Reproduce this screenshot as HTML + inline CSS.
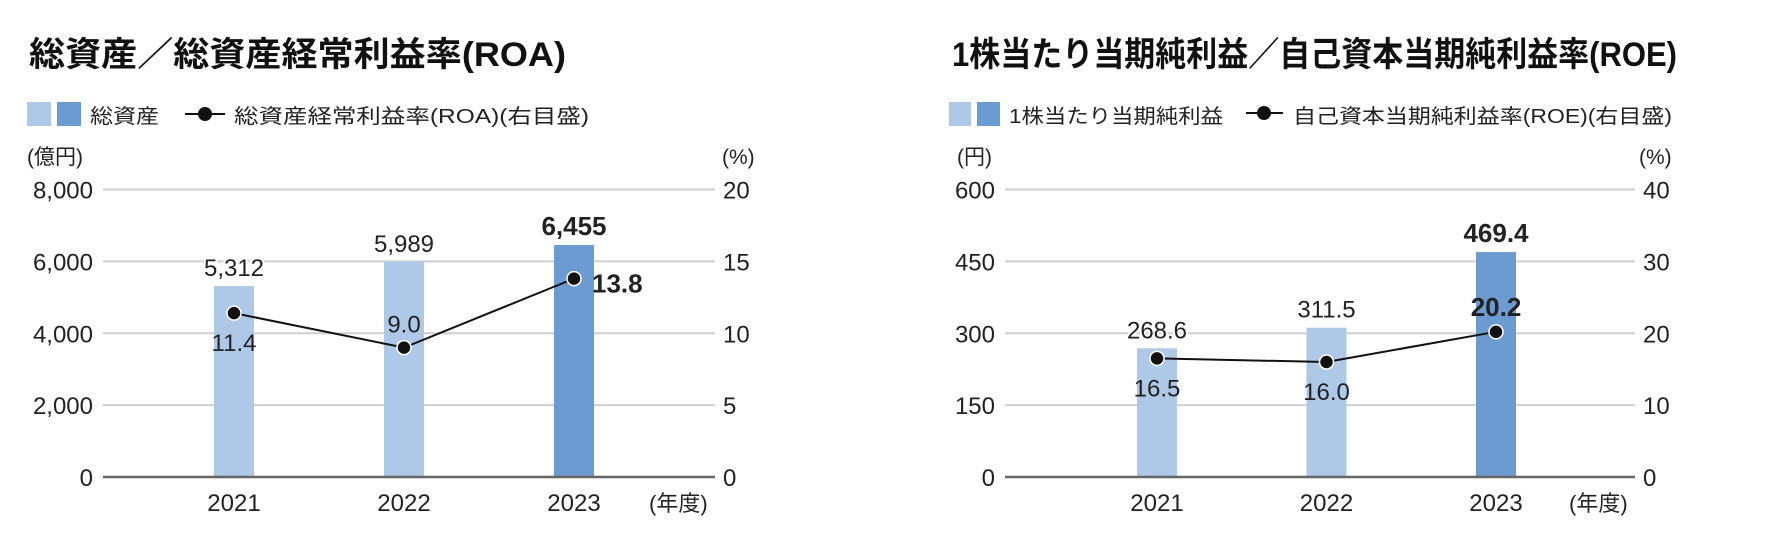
<!DOCTYPE html>
<html><head><meta charset="utf-8">
<style>
html,body{margin:0;padding:0;background:#fff;}
svg{display:block;font-family:"Liberation Sans","Noto Sans CJK JP",sans-serif;}
</style></head>
<body>
<svg id="chart" width="1773" height="541" viewBox="0 0 1773 541" xmlns="http://www.w3.org/2000/svg">
<g>
 <text x="29" y="66" font-size="34" font-weight="bold" fill="#111" textLength="537" lengthAdjust="spacingAndGlyphs">総資産／総資産経常利益率(ROA)</text>
 <rect x="27" y="102" width="24" height="24" fill="#aec8e8"/>
 <rect x="57" y="102" width="24" height="24" fill="#6b9bd1"/>
 <text x="90" y="123" font-size="20" fill="#222" textLength="69" lengthAdjust="spacingAndGlyphs">総資産</text>
 <line x1="185" y1="114" x2="225" y2="114" stroke="#111" stroke-width="2"/>
 <circle cx="205" cy="114" r="7" fill="#111"/>
 <text x="234" y="123" font-size="20" fill="#222" textLength="355" lengthAdjust="spacingAndGlyphs">総資産経常利益率(ROA)(右目盛)</text>
 <text x="27" y="164" font-size="21" fill="#222">(億円)</text>
 <text x="722" y="164" font-size="21" fill="#222">(%)</text>
 <text x="649" y="511" font-size="22" fill="#222">(年度)</text>
 <g id="g1"></g>
</g>
<g>
 <text x="952" y="66" font-size="34" font-weight="bold" fill="#111" textLength="725" lengthAdjust="spacingAndGlyphs">1株当たり当期純利益／自己資本当期純利益率(ROE)</text>
 <rect x="949" y="102" width="22" height="24" fill="#aec8e8"/>
 <rect x="977" y="102" width="23" height="24" fill="#6b9bd1"/>
 <text x="1009" y="123" font-size="20" fill="#222" textLength="214" lengthAdjust="spacingAndGlyphs">1株当たり当期純利益</text>
 <line x1="1246" y1="113" x2="1283" y2="113" stroke="#111" stroke-width="2"/>
 <circle cx="1264" cy="113" r="7" fill="#111"/>
 <text x="1293" y="123" font-size="20" fill="#222" textLength="379" lengthAdjust="spacingAndGlyphs">自己資本当期純利益率(ROE)(右目盛)</text>
 <text x="957" y="164" font-size="21" fill="#222">(円)</text>
 <text x="1639" y="164" font-size="21" fill="#222">(%)</text>
 <text x="1569" y="511" font-size="22" fill="#222">(年度)</text>
 <g id="g2"></g>
</g>
</svg>
<script>
const categories = ["2021","2022","2023"];
const assetValues = [5312, 5989, 6455];
const roaValues = [11.4, 9.0, 13.8];
const assetTicks = [0, 2000, 4000, 6000, 8000];
const roaTicks = [0, 5, 10, 15, 20];
const epsValues = [268.6, 311.5, 469.4];
const roeValues = [16.5, 16.0, 20.2];
const epsTicks = [0, 150, 300, 450, 600];
const roeTicks = [0, 10, 20, 30, 40];

const NS = "http://www.w3.org/2000/svg";
function mk(parent, tag, attrs, text){
  const e = document.createElementNS(NS, tag);
  for (const k in attrs) e.setAttribute(k, attrs[k]);
  if (text !== undefined) e.textContent = text;
  parent.appendChild(e);
  return e;
}
function fmt(v, dec){ return dec ? v.toFixed(1) : v.toLocaleString("en-US"); }

function draw(g, cfg){
  const top = 189.5, bottom = 477;
  const lmax = cfg.lTicks[cfg.lTicks.length-1], rmax = cfg.rTicks[cfg.rTicks.length-1];
  const yL = v => bottom - v / lmax * (bottom - top);
  const yR = v => bottom - v / rmax * (bottom - top);
  const xC = i => cfg.x0 + i * cfg.step;
  cfg.lTicks.forEach((t, i) => {
    const y = yL(t);
    if (i > 0) {
      const gl = mk(g, "line", {x1: cfg.gx1, x2: cfg.gx2, y1: y, y2: y, stroke: "#cfcfcf", "stroke-width": 2});
      
      
    }
    const lt = mk(g, "text", {x: cfg.gx1 - 10, y: y + 9, "font-size": 24, fill: "#222", "text-anchor": "end"}, fmt(t, false));
    
    
  });
  cfg.rTicks.forEach(t => {
    const rt = mk(g, "text", {x: cfg.gx2 + 8, y: yR(t) + 9, "font-size": 24, fill: "#222"}, String(t));
    
    
  });
  cfg.bars.forEach((v, i) => {
    const last = i === cfg.bars.length - 1;
    const b = mk(g, "rect", {x: xC(i) - 20, y: yL(v), width: 40, height: bottom - yL(v), fill: last ? "#6b9bd1" : "#aec8e8"});
    
    
    const lbl = mk(g, "text", {x: xC(i), y: yL(v) - 10, "font-size": last ? 26 : 24, "font-weight": last ? "bold" : "normal", fill: "#222", "text-anchor": "middle", stroke: "#fff", "stroke-width": 4, "paint-order": "stroke"}, fmt(v, cfg.barDec));
    
    
    const yl = mk(g, "text", {x: xC(i), y: 511, "font-size": 24, fill: "#222", "text-anchor": "middle"}, categories[i]);
    
    
  });
  const base = mk(g, "line", {x1: cfg.gx1, x2: cfg.gx2, y1: bottom, y2: bottom, stroke: "#666", "stroke-width": 2.5});
  
  
  const pts = cfg.line.map((v, i) => xC(i) + "," + yR(v)).join(" ");
  const pl = mk(g, "polyline", {points: pts, fill: "none", stroke: "#111", "stroke-width": 2});
  
  
  cfg.line.forEach((v, i) => {
    const last = i === cfg.line.length - 1;
    const c = mk(g, "circle", {cx: xC(i), cy: yR(v), r: 7, fill: "#111", stroke: "#fff", "stroke-width": 1.5});
    
    
    const p = cfg.lblPos[i];
    const t = mk(g, "text", {x: xC(i) + p[0], y: yR(v) + p[1], "font-size": last ? 26 : 24, "font-weight": last ? "bold" : "normal", fill: "#222", "text-anchor": p[2], stroke: last ? "#6b9bd1" : "#aec8e8", "stroke-width": 0, "paint-order": "stroke"}, v.toFixed(1));
    
    
  });
}

draw(document.getElementById("g1"), {
  x0: 234, step: 170, gx1: 103, gx2: 715,
  lTicks: assetTicks, rTicks: roaTicks, bars: assetValues, line: roaValues, barDec: false,
  lblPos: [[0, 38, "middle"], [0, -15, "middle"], [18, 14, "start"]]
});
draw(document.getElementById("g2"), {
  x0: 1157, step: 169.5, gx1: 1005, gx2: 1635,
  lTicks: epsTicks, rTicks: roeTicks, bars: epsValues, line: roeValues, barDec: true,
  lblPos: [[0, 38, "middle"], [0, 38, "middle"], [0, -16, "middle"]]
});
</script>
</body></html>
